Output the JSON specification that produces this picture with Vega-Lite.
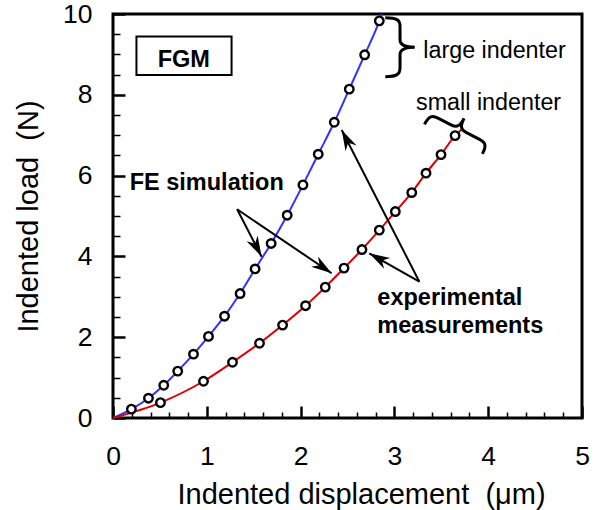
{
  "$schema": "https://vega.github.io/schema/vega-lite/v6.json",
  "width": 469,
  "height": 404,
  "autosize": {"type": "none"},
  "padding": {"left": 113, "top": 14, "right": 13, "bottom": 92},
  "config": {
    "view": {"stroke": "black", "strokeWidth": 3},
    "font": "Liberation Sans",
    "axis": {"grid": false, "labelColor": "black", "titleColor": "black", "labelFont": "Liberation Sans", "titleFont": "Liberation Sans", "titleFontWeight": "normal", "tickColor": "black"}
  },
  "datasets": {
    "curves": [
      {"series": "large", "x": 0, "y": 0},
      {"series": "large", "x": 0.196, "y": 0.22},
      {"series": "large", "x": 0.378, "y": 0.49},
      {"series": "large", "x": 0.541, "y": 0.81},
      {"series": "large", "x": 0.69, "y": 1.16},
      {"series": "large", "x": 0.858, "y": 1.58},
      {"series": "large", "x": 1.018, "y": 2.02},
      {"series": "large", "x": 1.189, "y": 2.52},
      {"series": "large", "x": 1.355, "y": 3.08},
      {"series": "large", "x": 1.515, "y": 3.69},
      {"series": "large", "x": 1.686, "y": 4.32},
      {"series": "large", "x": 1.857, "y": 5.02},
      {"series": "large", "x": 2.025, "y": 5.77},
      {"series": "large", "x": 2.188, "y": 6.53},
      {"series": "large", "x": 2.359, "y": 7.32},
      {"series": "large", "x": 2.519, "y": 8.14},
      {"series": "large", "x": 2.683, "y": 8.99},
      {"series": "large", "x": 2.839, "y": 9.83},
      {"series": "large", "x": 2.864, "y": 10},
      {"series": "small", "x": 0, "y": 0},
      {"series": "small", "x": 0.506, "y": 0.38},
      {"series": "small", "x": 0.965, "y": 0.91},
      {"series": "small", "x": 1.274, "y": 1.38},
      {"series": "small", "x": 1.562, "y": 1.85},
      {"series": "small", "x": 1.808, "y": 2.3},
      {"series": "small", "x": 2.053, "y": 2.78},
      {"series": "small", "x": 2.263, "y": 3.24},
      {"series": "small", "x": 2.463, "y": 3.71},
      {"series": "small", "x": 2.654, "y": 4.17},
      {"series": "small", "x": 2.839, "y": 4.65},
      {"series": "small", "x": 3.01, "y": 5.11},
      {"series": "small", "x": 3.185, "y": 5.58},
      {"series": "small", "x": 3.337, "y": 6.06},
      {"series": "small", "x": 3.497, "y": 6.52},
      {"series": "small", "x": 3.647, "y": 6.99},
      {"series": "small", "x": 3.72, "y": 7.15}
    ],
    "points": [
      {"series": "large", "x": 0.196, "y": 0.22},
      {"series": "large", "x": 0.378, "y": 0.49},
      {"series": "large", "x": 0.541, "y": 0.81},
      {"series": "large", "x": 0.69, "y": 1.16},
      {"series": "large", "x": 0.858, "y": 1.58},
      {"series": "large", "x": 1.018, "y": 2.02},
      {"series": "large", "x": 1.189, "y": 2.52},
      {"series": "large", "x": 1.355, "y": 3.08},
      {"series": "large", "x": 1.515, "y": 3.69},
      {"series": "large", "x": 1.686, "y": 4.32},
      {"series": "large", "x": 1.857, "y": 5.02},
      {"series": "large", "x": 2.025, "y": 5.77},
      {"series": "large", "x": 2.188, "y": 6.53},
      {"series": "large", "x": 2.359, "y": 7.32},
      {"series": "large", "x": 2.519, "y": 8.14},
      {"series": "large", "x": 2.683, "y": 8.99},
      {"series": "large", "x": 2.839, "y": 9.83},
      {"series": "small", "x": 0.506, "y": 0.38},
      {"series": "small", "x": 0.965, "y": 0.91},
      {"series": "small", "x": 1.274, "y": 1.38},
      {"series": "small", "x": 1.562, "y": 1.85},
      {"series": "small", "x": 1.808, "y": 2.3},
      {"series": "small", "x": 2.053, "y": 2.78},
      {"series": "small", "x": 2.263, "y": 3.24},
      {"series": "small", "x": 2.463, "y": 3.71},
      {"series": "small", "x": 2.654, "y": 4.17},
      {"series": "small", "x": 2.839, "y": 4.65},
      {"series": "small", "x": 3.01, "y": 5.11},
      {"series": "small", "x": 3.185, "y": 5.58},
      {"series": "small", "x": 3.337, "y": 6.06},
      {"series": "small", "x": 3.497, "y": 6.52},
      {"series": "small", "x": 3.647, "y": 6.99}
    ],
    "arrows": [
      {"x": 1.323, "y": 5.166, "x2": 1.584, "y2": 3.993, "angle": 152.8},
      {"x": 1.323, "y": 5.166, "x2": 2.331, "y2": 3.582, "angle": 124.1},
      {"x": 3.266, "y": 3.374, "x2": 2.732, "y2": 4.077, "angle": 299.6},
      {"x": 3.266, "y": 3.374, "x2": 2.438, "y2": 7.129, "angle": 332.9}
    ],
    "box": [{"x": 0.25, "x2": 1.264, "y": 9.44, "y2": 8.49}],
    "boldText": [
      {"text": "FE simulation", "x": 0.178, "y": 5.64},
      {"text": "experimental", "x": 2.818, "y": 2.8},
      {"text": "measurements", "x": 2.818, "y": 2.1}
    ],
    "plainText": [
      {"text": "large indenter", "x": 3.308, "y": 8.9},
      {"text": "small indenter", "x": 3.231, "y": 7.62}
    ],
    "fgm": [{"text": "FGM", "x": 0.755, "y": 8.68}],
    "braceLarge": [{"x": 3.06, "y": 9.18}],
    "braceSmall": [{"x": 3.686, "y": 7.16}]
  },
  "resolve": {"axis": {"x": "independent", "y": "independent"}},
  "layer": [
    {
      "data": {"name": "curves"},
      "mark": {"type": "line", "strokeWidth": 2, "interpolate": "monotone"},
      "encoding": {
        "x": {"field": "x", "type": "quantitative", "scale": {"domain": [0, 5], "nice": false, "zero": false},
          "axis": {"orient": "bottom", "values": [0, 1, 2, 3, 4, 5], "format": "d", "ticks": false, "domain": false, "labelFlush": false, "labelFontSize": 26.5, "labelPadding": 25, "title": "Indented displacement\u00a0 (μm)", "titleFontSize": 29, "titlePadding": 11, "titleAnchor": "middle", "titleX": 248}},
        "y": {"field": "y", "type": "quantitative", "scale": {"domain": [0, 10], "nice": false, "zero": false},
          "axis": {"orient": "left", "values": [0, 2, 4, 6, 8, 10], "format": "d", "ticks": false, "domain": false, "labelFontSize": 26.5, "labelPadding": 21, "title": "Indented load\u00a0 (N)", "titleFontSize": 29, "titlePadding": 19,
            "encode": {"labels": {"update": {"dy": {"signal": "datum.value === 0 ? 6 : datum.value === 10 ? 7 : 1"}}}}}},
        "color": {"field": "series", "type": "nominal", "scale": {"domain": ["large", "small"], "range": ["#3333ff", "#dd0000"]}, "legend": null}
      }
    },
    {
      "data": {"name": "points"},
      "mark": {"type": "point", "shape": "circle", "filled": true, "fill": "white", "stroke": "black", "strokeWidth": 2.4, "size": 72, "opacity": 1},
      "encoding": {
        "x": {"field": "x", "type": "quantitative", "axis": {"orient": "top", "offset": -404, "values": [0, 1, 2, 3, 4, 5], "tickSize": 12, "tickWidth": 2.5, "labels": false, "domain": false, "title": null}},
        "y": {"field": "y", "type": "quantitative", "axis": {"orient": "right", "offset": -469, "values": [0, 2, 4, 6, 8, 10], "tickSize": 12, "tickWidth": 2.5, "labels": false, "domain": false, "title": null}}
      }
    },
    {
      "data": {"name": "box"},
      "mark": {"type": "rect", "fill": null, "fillOpacity": 0, "stroke": "black", "strokeWidth": 2},
      "encoding": {
        "x": {"field": "x", "type": "quantitative", "axis": {"orient": "top", "offset": -404, "values": [0.2, 0.4, 0.6, 0.8, 1.2, 1.4, 1.6, 1.8, 2.2, 2.4, 2.6, 2.8, 3.2, 3.4, 3.6, 3.8, 4.2, 4.4, 4.6, 4.8], "tickSize": 6, "tickWidth": 1.5, "labels": false, "domain": false, "title": null}},
        "x2": {"field": "x2"},
        "y": {"field": "y", "type": "quantitative", "axis": {"orient": "right", "offset": -469, "values": [0.5, 1, 1.5, 2.5, 3, 3.5, 4.5, 5, 5.5, 6.5, 7, 7.5, 8.5, 9, 9.5], "tickSize": 7, "tickWidth": 1.5, "labels": false, "domain": false, "title": null}},
        "y2": {"field": "y2"}
      }
    },
    {
      "data": {"name": "arrows"},
      "mark": {"type": "rule", "stroke": "black", "strokeWidth": 2},
      "encoding": {
        "x": {"field": "x", "type": "quantitative", "axis": null},
        "y": {"field": "y", "type": "quantitative", "axis": null},
        "x2": {"field": "x2"},
        "y2": {"field": "y2"}
      }
    },
    {
      "data": {"name": "arrows"},
      "mark": {"type": "point", "shape": "M0,0 L0.3,1 L0,0.7 L-0.3,1 Z", "filled": true, "fill": "black", "strokeWidth": 0, "size": 1700, "opacity": 1},
      "encoding": {
        "x": {"field": "x2", "type": "quantitative", "axis": null},
        "y": {"field": "y2", "type": "quantitative", "axis": null},
        "angle": {"field": "angle", "type": "quantitative", "scale": null}
      }
    },
    {
      "data": {"name": "braceLarge"},
      "mark": {"type": "point", "shape": "M-0.5,-1 C-0.1,-1 0,-0.92 0,-0.7 L0,-0.25 C0,-0.06 0.2,0 0.5,0 C0.2,0 0,0.06 0,0.25 L0,0.7 C0,0.92 -0.1,1 -0.5,1", "filled": false, "stroke": "black", "strokeWidth": 3, "size": 3481, "opacity": 1},
      "encoding": {
        "x": {"field": "x", "type": "quantitative", "axis": null},
        "y": {"field": "y", "type": "quantitative", "axis": null}
      }
    },
    {
      "data": {"name": "braceSmall"},
      "mark": {"type": "point", "shape": "M-0.36,-1 C-0.05,-1 0,-0.92 0,-0.7 L0,-0.25 C0,-0.06 0.1,0 0.36,0 C0.1,0 0,0.06 0,0.25 L0,0.7 C0,0.92 -0.05,1 -0.36,1", "filled": false, "stroke": "black", "strokeWidth": 3, "size": 4225, "angle": 297, "opacity": 1},
      "encoding": {
        "x": {"field": "x", "type": "quantitative", "axis": null},
        "y": {"field": "y", "type": "quantitative", "axis": null}
      }
    },
    {
      "data": {"name": "boldText"},
      "mark": {"type": "text", "align": "left", "baseline": "alphabetic", "fontSize": 23.5, "fontWeight": "bold", "font": "Liberation Sans", "color": "black"},
      "encoding": {
        "x": {"field": "x", "type": "quantitative", "axis": null},
        "y": {"field": "y", "type": "quantitative", "axis": null},
        "text": {"field": "text"}
      }
    },
    {
      "data": {"name": "plainText"},
      "mark": {"type": "text", "align": "left", "baseline": "alphabetic", "fontSize": 23.3, "font": "Liberation Sans", "color": "black"},
      "encoding": {
        "x": {"field": "x", "type": "quantitative", "axis": null},
        "y": {"field": "y", "type": "quantitative", "axis": null},
        "text": {"field": "text"}
      }
    },
    {
      "data": {"name": "fgm"},
      "mark": {"type": "text", "align": "center", "baseline": "alphabetic", "fontSize": 23.5, "fontWeight": "bold", "font": "Liberation Sans", "color": "black"},
      "encoding": {
        "x": {"field": "x", "type": "quantitative", "axis": null},
        "y": {"field": "y", "type": "quantitative", "axis": null},
        "text": {"field": "text"}
      }
    }
  ]
}
